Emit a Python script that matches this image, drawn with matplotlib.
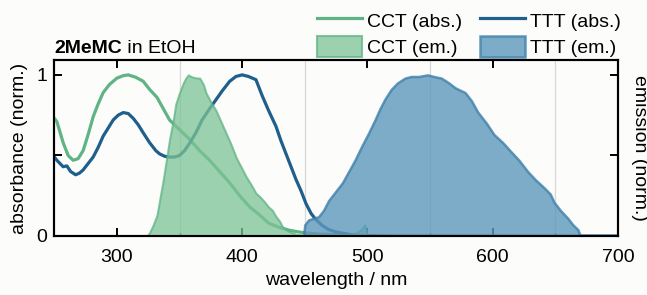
import matplotlib.pyplot as plt
from matplotlib.patches import Patch
from matplotlib.lines import Line2D

plt.rcParams['font.family'] = ['Liberation Sans', 'DejaVu Sans']
plt.rcParams['font.size'] = 14

# absorbance, CCT isomer (green line)
cct_abs_wl = [250, 252, 257, 261, 265, 269, 273, 277, 281, 285, 289, 294, 300, 305, 309, 315,
              321, 326, 332, 342, 350, 358, 366, 374, 382, 390, 398, 406, 414, 421, 429, 437,
              445, 453, 461, 469, 477, 485, 492, 500]
cct_abs = [0.73, 0.71, 0.58, 0.50, 0.47, 0.48, 0.53, 0.63, 0.74, 0.82, 0.89, 0.94, 0.98, 0.995, 1.0, 0.985,
           0.96, 0.91, 0.86, 0.72, 0.66, 0.60, 0.53, 0.47, 0.40, 0.33, 0.25, 0.18, 0.13, 0.08, 0.055, 0.037,
           0.025, 0.017, 0.012, 0.01, 0.007, 0.005, 0.003, 0.0]

# absorbance, TTT isomer (blue line)
ttt_abs_wl = [250, 252, 257, 260, 263, 267, 270, 273, 277, 281, 285, 289, 293, 297, 301, 305,
              309, 313, 317, 321, 326, 331, 334, 338, 342, 346, 350, 354, 358, 363, 368, 374,
              379, 384, 390, 395, 400, 405, 411, 416, 421, 427, 431, 435, 439, 443, 447, 451,
              455, 459, 464, 469, 475, 480, 490, 500, 520, 700]
ttt_abs = [0.49, 0.47, 0.43, 0.435, 0.40, 0.38, 0.39, 0.41, 0.45, 0.49, 0.55, 0.62, 0.67, 0.72, 0.75, 0.766,
           0.76, 0.73, 0.69, 0.64, 0.58, 0.53, 0.51, 0.495, 0.49, 0.49, 0.50, 0.53, 0.576, 0.64, 0.72, 0.79,
           0.845, 0.90, 0.96, 0.99, 1.0, 0.99, 0.97, 0.87, 0.78, 0.68, 0.59, 0.51, 0.43, 0.35, 0.28, 0.20,
           0.14, 0.10, 0.065, 0.04, 0.025, 0.017, 0.005, 0.002, 0.0, 0.0]

# emission, CCT isomer (green fill)
cct_em_wl = [324, 326, 329, 332, 334, 337, 340, 342, 345, 347, 350, 353, 355, 357, 359, 361,
             364, 366, 369, 371, 375, 379, 383, 387, 391, 395, 399, 403, 407, 411, 414, 418,
             421, 424, 427, 430, 432, 435, 437, 440, 443, 450, 470, 485, 491, 495, 498, 500]
cct_em = [0.0, 0.02, 0.07, 0.13, 0.22, 0.35, 0.50, 0.60, 0.72, 0.82, 0.89, 0.95, 0.98, 1.0, 0.99, 0.985,
          0.98, 0.98, 0.94, 0.89, 0.83, 0.78, 0.71, 0.64, 0.57, 0.49, 0.43, 0.37, 0.32, 0.265, 0.245, 0.21,
          0.18, 0.16, 0.12, 0.09, 0.058, 0.04, 0.03, 0.02, 0.01, 0.005, 0.005, 0.008, 0.02, 0.04, 0.07, 0.0]

# emission, TTT isomer (blue fill)
ttt_em_wl = [449, 450, 453, 457, 461, 465, 469, 474, 480, 485, 490, 495, 501, 506, 510, 514,
             519, 524, 530, 535, 541, 548, 553, 559, 565, 570, 578, 583, 588, 595, 601, 608,
             615, 621, 628, 634, 641, 646, 649, 654, 660, 664, 668, 670]
ttt_em = [0.0, 0.07, 0.10, 0.11, 0.12, 0.16, 0.22, 0.27, 0.33, 0.40, 0.47, 0.55, 0.64, 0.72, 0.79, 0.85,
          0.91, 0.95, 0.98, 0.99, 0.99, 1.0, 0.99, 0.98, 0.95, 0.92, 0.89, 0.84, 0.77, 0.70, 0.63, 0.58,
          0.52, 0.47, 0.40, 0.35, 0.30, 0.26, 0.21, 0.16, 0.11, 0.07, 0.04, 0.0]

green = '#5fb384'
green_fill = '#7cc396'
blue = '#1f5f8b'
blue_fill = '#5e98bd'
blue_edge = '#3f80aa'

fig, ax = plt.subplots(figsize=(6.47, 2.95), dpi=100)
fig.subplots_adjust(left=0.084, right=0.955, top=0.797, bottom=0.2)
fig.patch.set_facecolor('#fcfcfb')
ax.set_facecolor('#fcfcfb')

ax.plot(cct_abs_wl, cct_abs, color=green, lw=2.3, zorder=3)
ax.plot(ttt_abs_wl, ttt_abs, color=blue, lw=2.3, zorder=3)

ax2 = ax.twinx()
ax2.fill_between(cct_em_wl, cct_em, color=green_fill, alpha=0.75, lw=1.5, edgecolor=green)
ax2.fill_between(ttt_em_wl, ttt_em, color=blue_fill, alpha=0.8, lw=1.8, edgecolor=blue_edge)

for a in (ax, ax2):
    a.set_xlim(250, 700)
    a.set_ylim(0, 1.093)
    a.set_yticks([0, 0.5, 1])
    for s in a.spines.values():
        s.set_linewidth(1.5)

ax.set_xticks([300, 400, 500, 600, 700])
ax.set_xticks([350, 450, 550, 650], minor=True)
ax.grid(True, which='minor', axis='x', color='#d8d8d8', lw=0.9)
ax.set_axisbelow(True)
ax.set_yticklabels(['0', '', '1'])
ax.tick_params(axis='x', direction='in', length=6, width=1.4, top=True, labelsize=14, pad=9)
ax.tick_params(axis='y', direction='in', length=6, width=1.4, labelsize=14, pad=5)
ax.tick_params(which='minor', direction='in', length=2, width=1.0, top=False)
ax2.set_yticklabels([])
ax2.tick_params(direction='in', length=6, width=1.4)

ax.set_xlabel('wavelength / nm', fontsize=14, labelpad=5)
ax.set_ylabel('absorbance (norm.)', fontsize=14, labelpad=6)
ax2.set_ylabel('emission (norm.)', fontsize=14, rotation=270, labelpad=18)

t = ax.text(0.0, 1.015, '2MeMC', transform=ax.transAxes, fontsize=14, fontweight='bold',
            ha='left', va='bottom')
ax.annotate(' in EtOH', xy=(1, 0), xycoords=t, fontsize=14, ha='left', va='bottom')

handles = [Line2D([], [], color=green, lw=2.3),
           Patch(facecolor=green_fill, edgecolor=green, alpha=0.75, lw=1.5),
           Line2D([], [], color=blue, lw=2.3),
           Patch(facecolor=blue_fill, edgecolor=blue_edge, alpha=0.8, lw=1.8)]
labels = ['CCT (abs.)', 'CCT (em.)', 'TTT (abs.)', 'TTT (em.)']
ax.legend(handles, labels, ncol=2, loc='lower right', bbox_to_anchor=(1.005, 1.015),
          frameon=False, fontsize=14, handlelength=2.3, handleheight=1.25,
          handletextpad=0.25, columnspacing=0.95, labelspacing=0.3, borderaxespad=0.0,
          borderpad=0.0)

fig.savefig('out.png', dpi=100, facecolor=fig.get_facecolor())
